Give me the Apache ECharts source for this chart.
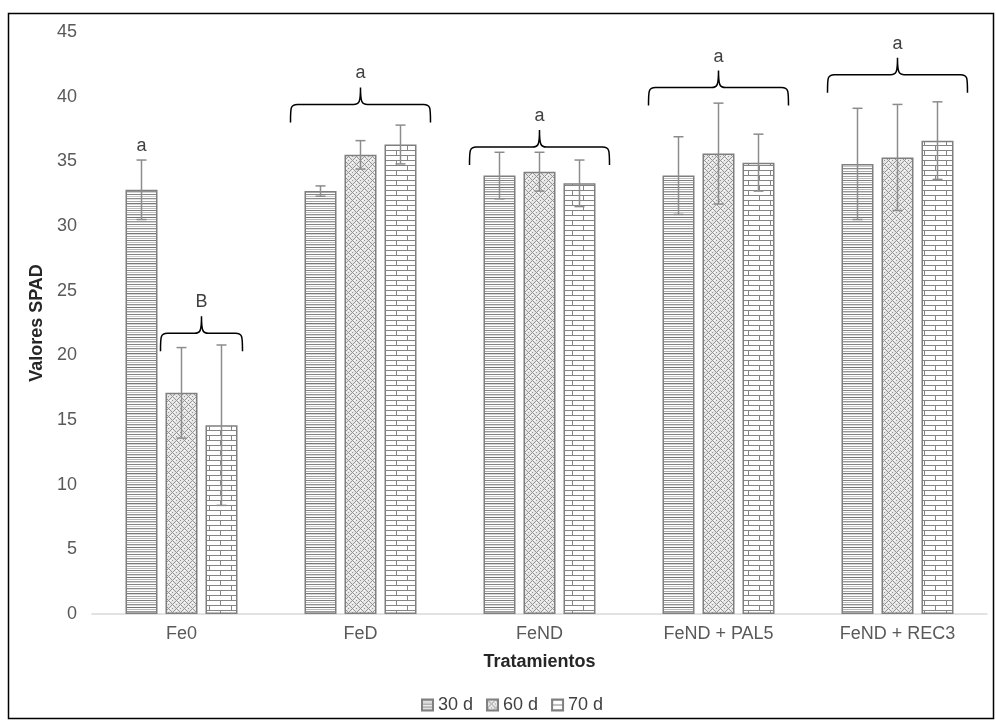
<!DOCTYPE html>
<html>
<head>
<meta charset="utf-8">
<script src="https://cdn.jsdelivr.net/npm/echarts@6/dist/echarts.min.js"></script>
<style>
html,body{margin:0;padding:0;background:#fff;}
#chart{width:996px;height:727px;}
</style>
</head>
<body>
<div id="chart"></div>
<script>
// ---- data ----
var categories = ['Fe0', 'FeD', 'FeND', 'FeND + PAL5', 'FeND + REC3'];
var seriesNames = ['30 d', '60 d', '70 d'];
var values30 = [32.8, 32.7, 33.9, 33.9, 34.8];
var values60 = [17.1, 35.5, 34.2, 35.6, 35.3];
var values70 = [14.6, 36.3, 33.3, 34.9, 36.6];
var err30 = [2.3, 0.4, 1.8, 3.0, 4.3];
var err60 = [3.5, 1.1, 1.5, 3.9, 4.1];
var err70 = [6.2, 1.5, 1.8, 2.2, 3.0];
var yTicks = [0, 5, 10, 15, 20, 25, 30, 35, 40, 45];
// braces: [category index, brace height (value), first series, last series]
var braces = [[0, 21.7, 1, 2], [1, 39.4, 0, 2], [2, 36.1, 0, 2], [3, 40.7, 0, 2], [4, 41.7, 0, 2]];
var braceLetters = ['B', 'a', 'a', 'a', 'a'];
// single-bar letters: [category index, series, value]
var singleLetters = [[0, 0, 35.1]];
var singleLetterText = ['a'];

// ---- patterns ----
function mk(w, h, draw) {
  var c = document.createElement('canvas'); c.width = w; c.height = h;
  var g = c.getContext('2d'); g.fillStyle = '#fff'; g.fillRect(0, 0, w, h); draw(g); return c;
}
var stripes = mk(8, 30, function (g) {
  var shades = ['#808080', '#fff', '#c0c0c0', '#fff', '#939393', '#dadada', '#fff', '#737373', '#fff', '#b5b5b5',
    '#fff', '#999', '#d2d2d2', '#fff', '#858585', '#fff', '#c8c8c8', '#fff', '#8e8e8e', '#e0e0e0',
    '#fff', '#a8a8a8', '#fff', '#787878', '#d6d6d6', '#fff', '#a0a0a0', '#fff', '#bcbcbc', '#fff'];
  for (var i = 0; i < shades.length; i++) { g.fillStyle = shades[i]; g.fillRect(0, i, 8, 1); }
});
var lattice = mk(8, 8, function (g) {
  g.fillStyle = '#e6e6e6'; g.fillRect(0, 0, 8, 8);
  g.fillStyle = '#959595';
  var pts = [[0,0],[4,0],[2,2],[6,2],[0,4],[4,4],[2,6],[6,6],[1,1],[5,5],[3,3],[7,7],[3,5],[5,3],[1,7],[7,1]];
  pts.forEach(function (p) { g.fillRect(p[0], p[1], 1, 1); });
  g.fillStyle = '#fff';
  [[2,0],[6,4],[0,2],[4,6]].forEach(function (p) { g.fillRect(p[0], p[1], 1, 1); });
});
var bricks = mk(22, 10, function (g) {
  g.fillStyle = '#858585';
  g.fillRect(0, 0, 22, 1); g.fillRect(0, 5, 22, 1);
  g.fillRect(0, 0, 1, 5); g.fillRect(11, 5, 1, 5);
});
var patterns = [stripes, lattice, bricks];
var valueSets = [values30, values60, values70];
var errSets = [err30, err60, err70];

var BAR_W = 32, BAR_GAP = 8;
var font = 'Liberation Sans, Arial, sans-serif';
var FS = 18;

var series = [];
seriesNames.forEach(function (name, si) {
  series.push({
    name: name, type: 'bar', barWidth: BAR_W, barGap: (BAR_GAP / BAR_W * 100) + '%',
    data: valueSets[si],
    itemStyle: { color: { image: patterns[si], repeat: 'repeat' }, borderColor: '#7f7f7f', borderWidth: 1.5 },
    emphasis: { disabled: true }, animation: false
  });
});

var errData = [];
for (var s = 0; s < 3; s++) {
  for (var c = 0; c < categories.length; c++) {
    errData.push([c, valueSets[s][c] - errSets[s][c], valueSets[s][c] + errSets[s][c], s]);
  }
}
series.push({
  type: 'custom', name: 'err', silent: true, animation: false, z: 5,
  data: errData,
  renderItem: function (params, api) {
    var off = (api.value(3) - 1) * (BAR_W + BAR_GAP);
    var lo = api.coord([api.value(0), api.value(1)]);
    var hi = api.coord([api.value(0), api.value(2)]);
    var x = lo[0] + off;
    var st = { stroke: '#8c8c8c', lineWidth: 1.5 };
    return { type: 'group', children: [
      { type: 'line', shape: { x1: x, y1: lo[1], x2: x, y2: hi[1] }, style: st },
      { type: 'line', shape: { x1: x - 5, y1: hi[1], x2: x + 5, y2: hi[1] }, style: st },
      { type: 'line', shape: { x1: x - 5, y1: lo[1], x2: x + 5, y2: lo[1] }, style: st }
    ] };
  }
});

series.push({
  type: 'custom', name: 'braces', silent: true, animation: false, z: 6,
  data: braces,
  renderItem: function (params, api) {
    var first = api.value(2), last = api.value(3);
    var base = api.coord([api.value(0), api.value(1)]);
    var pad = (last - first) >= 2 ? 14 : 5;
    var x0 = base[0] + (first - 1) * (BAR_W + BAR_GAP) - BAR_W / 2 - pad;
    var x1 = base[0] + (last - 1) * (BAR_W + BAR_GAP) + BAR_W / 2 + pad;
    var xm = (x0 + x1) / 2, y = base[1];
    var d = 18, t = 17, r = 7;
    var path = 'M' + x0 + ',' + (y + d) +
      ' C' + x0 + ',' + (y + 3) + ' ' + x0 + ',' + y + ' ' + (x0 + r) + ',' + y +
      ' L' + (xm - r) + ',' + y +
      ' C' + (xm - 1) + ',' + y + ' ' + xm + ',' + (y - 3) + ' ' + xm + ',' + (y - t) +
      ' C' + xm + ',' + (y - 3) + ' ' + (xm + 1) + ',' + y + ' ' + (xm + r) + ',' + y +
      ' L' + (x1 - r) + ',' + y +
      ' C' + x1 + ',' + y + ' ' + x1 + ',' + (y + 3) + ' ' + x1 + ',' + (y + d);
    return { type: 'group', children: [
      { type: 'path', shape: { pathData: path }, style: { stroke: '#000', lineWidth: 1.5, fill: null } },
      { type: 'text', style: { text: braceLetters[params.dataIndex], x: xm, y: y - t - 5, align: 'center', verticalAlign: 'bottom',
        font: FS + 'px ' + font, fill: '#404040' } }
    ] };
  }
});

series.push({
  type: 'custom', name: 'letters', silent: true, animation: false, z: 6,
  data: singleLetters,
  renderItem: function (params, api) {
    var p = api.coord([api.value(0), api.value(2)]);
    var x = p[0] + (api.value(1) - 1) * (BAR_W + BAR_GAP);
    return { type: 'text', style: { text: singleLetterText[params.dataIndex], x: x, y: p[1] - 5, align: 'center', verticalAlign: 'bottom',
      font: FS + 'px ' + font, fill: '#404040' } };
  }
});

var chart = echarts.init(document.getElementById('chart'), null, { renderer: 'canvas' });
chart.setOption({
  backgroundColor: '#fff',
  animation: false,
  textStyle: { fontFamily: font },
  graphic: [{ type: 'rect', shape: { x: 8.5, y: 13.5, width: 985, height: 705 }, style: { fill: null, stroke: '#000', lineWidth: 1.5 }, silent: true, z: -1 }],
  grid: { left: 92, right: 9, top: 32, bottom: 113 },
  legend: {
    data: seriesNames, top: 693, left: 418, icon: 'rect', itemWidth: 11, itemHeight: 11, itemGap: 13, padding: 3,
    textStyle: { fontSize: FS, color: '#404040', fontFamily: font }
  },
  xAxis: {
    type: 'category', data: categories,
    axisLine: { lineStyle: { color: '#d9d9d9', width: 1.5 } }, axisTick: { show: false },
    axisLabel: { fontSize: FS, color: '#595959', margin: 11 },
    name: 'Tratamientos', nameLocation: 'middle', nameGap: 39,
    nameTextStyle: { fontSize: FS, fontWeight: 'bold', color: '#262626' }
  },
  yAxis: {
    type: 'value', min: yTicks[0], max: yTicks[yTicks.length - 1], interval: yTicks[1] - yTicks[0],
    splitLine: { show: false }, axisLine: { show: false }, axisTick: { show: false },
    axisLabel: { fontSize: FS, color: '#595959', margin: 15 },
    name: 'Valores SPAD', nameLocation: 'middle', nameGap: 45,
    nameTextStyle: { fontSize: FS, fontWeight: 'bold', color: '#262626' }
  },
  series: series
});
</script>
</body>
</html>
